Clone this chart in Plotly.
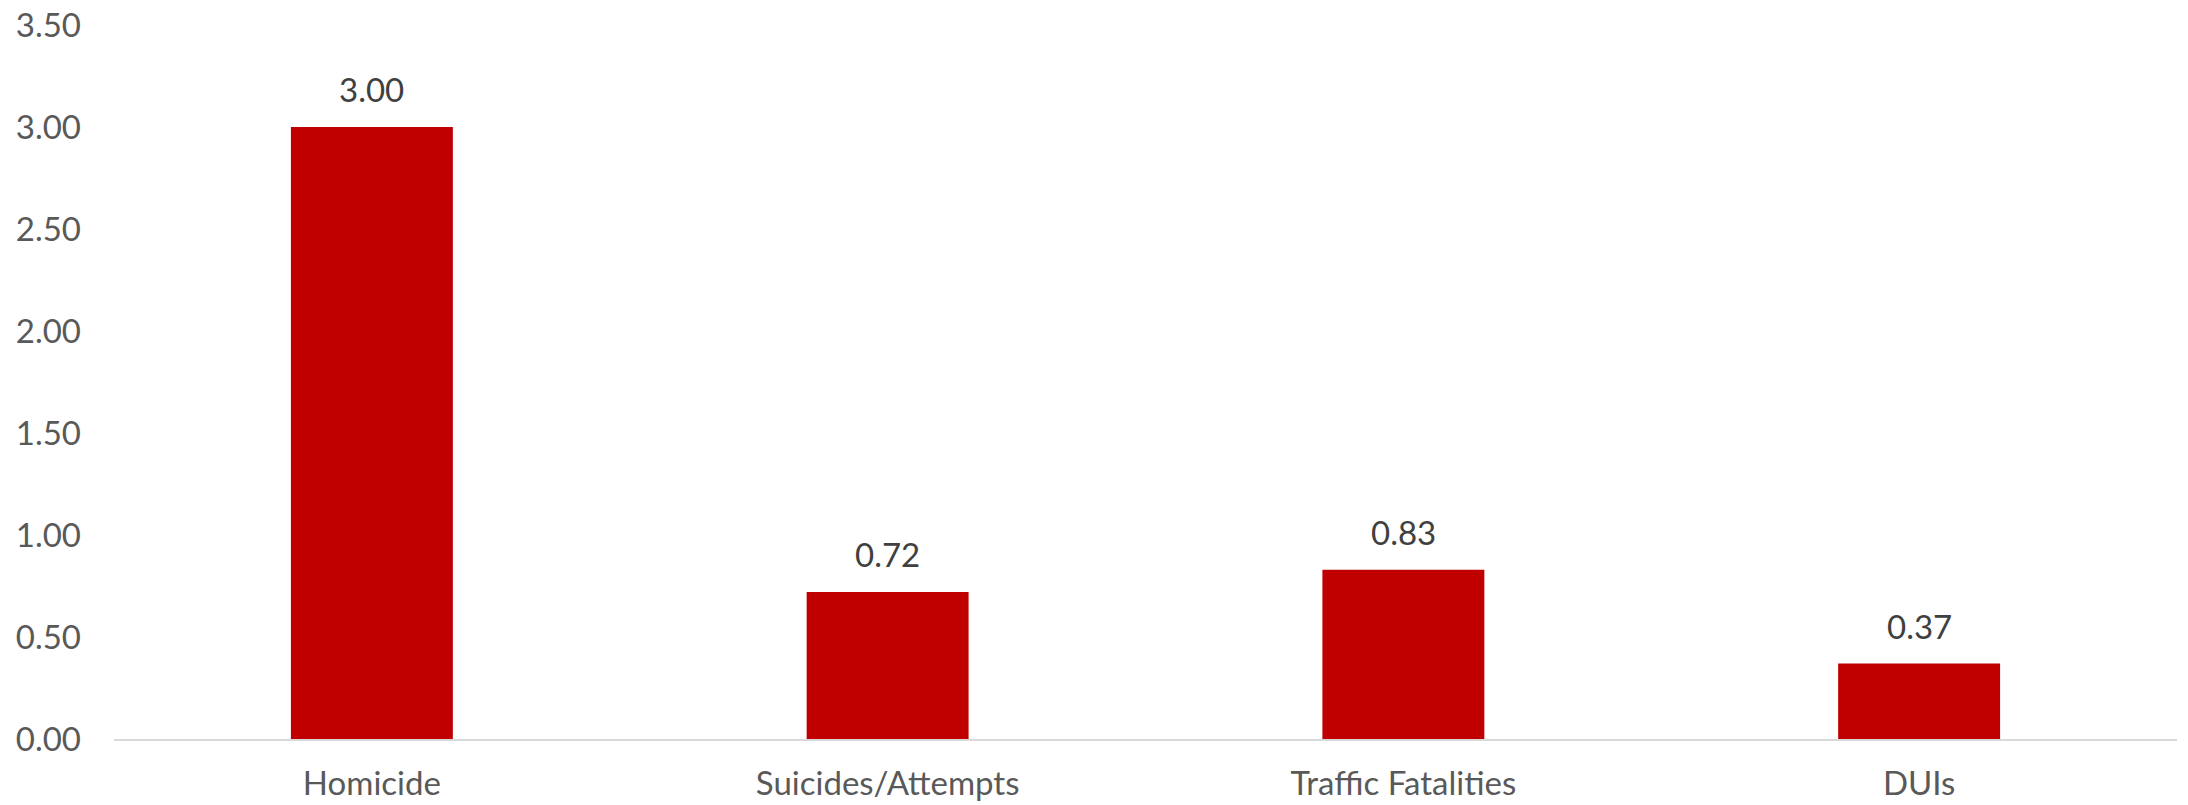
import plotly.graph_objects as go

categories = ["Homicide", "Suicides/Attempts", "Traffic Fatalities", "DUIs"]
values = [3.00, 0.72, 0.83, 0.37]
y_ticks = [0, 0.5, 1.0, 1.5, 2.0, 2.5, 3.0, 3.5]

BAR_COLOR = "#C00000"
FONT = "Lato, 'Open Sans', sans-serif"

fig = go.Figure(
    go.Bar(
        x=categories,
        y=values,
        marker=dict(color=BAR_COLOR, line=dict(width=0)),
        hoverinfo="skip",
    )
)

# value labels above each bar
for cat, v in zip(categories, values):
    fig.add_annotation(
        x=cat, y=v, text=f"{v:.2f}", showarrow=False,
        yanchor="bottom", yshift=16,
        font=dict(family=FONT, size=33, color="#404040"),
    )

fig.update_layout(
    width=2188, height=805,
    margin=dict(l=114, r=11, t=25, b=66, autoexpand=False),
    paper_bgcolor="white", plot_bgcolor="white",
    bargap=0.686,
    showlegend=False,
    font=dict(family=FONT, color="#595959"),
)
fig.update_xaxes(
    showgrid=False, showline=True, linecolor="#D9D9D9", linewidth=2,
    ticks="", tickfont=dict(size=33, color="#595959"),
    ticklabelstandoff=14, automargin=False,
)
fig.update_yaxes(
    range=[0, 3.5], tickvals=y_ticks, ticktext=[f"{t:.2f}" for t in y_ticks],
    showgrid=False, zeroline=False, showline=False, ticks="",
    tickfont=dict(size=33, color="#595959"),
    ticklabelstandoff=32, automargin=False,
)

fig.write_html("out.html")
